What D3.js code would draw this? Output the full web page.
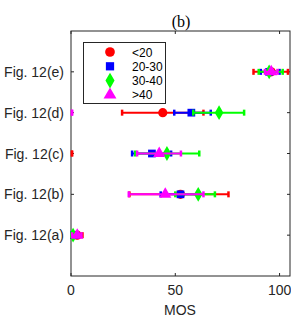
<!DOCTYPE html>
<html>
<head>
<meta charset="utf-8">
<script src="https://cdn.jsdelivr.net/npm/d3@7"></script>
<style>
  body { margin: 0; background: #fff; }
  svg { display: block; font-family: "Liberation Sans", Arial, sans-serif; }
</style>
</head>
<body>
<svg width="291" height="319"></svg>
<script>
// rows on the y axis, bottom to top
const rows = ["Fig. 12(a)", "Fig. 12(b)", "Fig. 12(c)", "Fig. 12(d)", "Fig. 12(e)"];
const groups = ["<20", "20-30", "30-40", ">40"];
const colors = ["#ff0000", "#0000ff", "#00ff00", "#ff00ff"];
const xTicks = [0, 50, 100];

// mean / low / high per group, one value per row (null = no marker)
const redMean  = [3, 52.5, null, 44, 96];
const redLow   = [1, 28, 0, 24.5, 87.5];
const redHigh  = [5.5, 75.5, 0, 63.5, 104];
const blueMean = [1.5, 52.5, 38.8, 57.7, 95];
const blueLow  = [0, 43, 29.3, 49.5, 91];
const blueHigh = [3.5, 61.5, 48, 67, 100];
const greenMean = [1, 61, 46, 71, 95];
const greenLow  = [0, 50, 30.8, 58.6, 90];
const greenHigh = [3, 69, 61.5, 83, 101.5];
const magMean = [3, 45.2, 42.3, null, 96];
const magLow  = [0.5, 27.7, 31.7, 0, 93];
const magHigh = [5, 63.5, 52.7, 0, 99];

const series = [
  { mean: redMean, low: redLow, high: redHigh },
  { mean: blueMean, low: blueLow, high: blueHigh },
  { mean: greenMean, low: greenLow, high: greenHigh },
  { mean: magMean, low: magLow, high: magHigh }
];
const shapes = [d3.symbolCircle, d3.symbolSquare, d3.symbolDiamond, d3.symbolTriangle];
const sizes = [66, 60, 64, 64];

const mLeft = 71, mRight = 290, mTop = 31, mBottom = 276;
const x = d3.scaleLinear().domain([0, 105]).range([mLeft, mRight]);
const y = d3.scaleLinear().domain([0, 6]).range([mBottom, mTop]);

const svg = d3.select("svg");
const axisCol = "#262626";

svg.append("clipPath").attr("id", "clip")
   .append("rect").attr("x", mLeft - 1).attr("y", mTop)
   .attr("width", mRight - mLeft + 1).attr("height", mBottom - mTop);

// ticks (inward, both sides)
xTicks.forEach(t => {
  svg.append("line").attr("x1", x(t)).attr("x2", x(t)).attr("y1", mBottom).attr("y2", mBottom - 3)
     .attr("stroke", axisCol);
  svg.append("line").attr("x1", x(t)).attr("x2", x(t)).attr("y1", mTop).attr("y2", mTop + 3)
     .attr("stroke", axisCol);
  svg.append("text").attr("x", x(t)).attr("y", 295).attr("text-anchor", "middle")
     .attr("font-size", 14).attr("fill", axisCol).text(t);
});
rows.forEach((r, i) => {
  svg.append("line").attr("x1", mLeft).attr("x2", mLeft + 3).attr("y1", y(i + 1)).attr("y2", y(i + 1))
     .attr("stroke", axisCol);
  svg.append("line").attr("x1", mRight).attr("x2", mRight - 3).attr("y1", y(i + 1)).attr("y2", y(i + 1))
     .attr("stroke", axisCol);
  svg.append("text").attr("x", 64).attr("y", y(i + 1) + 5).attr("text-anchor", "end")
     .attr("font-size", 14).attr("fill", axisCol).text(r);
});

// box
svg.append("rect").attr("x", mLeft).attr("y", mTop).attr("width", mRight - mLeft).attr("height", mBottom - mTop)
   .attr("fill", "none").attr("stroke", axisCol).attr("stroke-width", 1);

// error bars
const plot = svg.append("g").attr("clip-path", "url(#clip)");
series.forEach((s, k) => {
  const g = plot.append("g");
  rows.forEach((r, i) => {
    const yy = y(i + 1);
    g.append("line").attr("x1", x(s.low[i])).attr("x2", x(s.high[i]))
     .attr("y1", yy).attr("y2", yy).attr("stroke", colors[k]).attr("stroke-width", 2);
    [s.low[i], s.high[i]].forEach(v => {
      g.append("line").attr("x1", x(v) + (v === 0 ? 1 : 0)).attr("x2", x(v) + (v === 0 ? 1 : 0))
       .attr("y1", yy - 3).attr("y2", yy + 3).attr("stroke", colors[k]).attr("stroke-width", 2.5);
    });
    if (s.mean[i] !== null) {
      g.append("path").attr("d", d3.symbol().type(shapes[k]).size(sizes[k])())
       .attr("transform", `translate(${x(s.mean[i])},${yy})`)
       .attr("fill", colors[k]);
    }
  });
});

// legend
const lg = svg.append("g");
lg.append("rect").attr("x", 83.5).attr("y", 42.5).attr("width", 82).attr("height", 61)
  .attr("fill", "#fff").attr("stroke", axisCol).attr("stroke-width", 1);
groups.forEach((gname, k) => {
  const ly = 52 + k * 14.3;
  lg.append("path").attr("d", d3.symbol().type(shapes[k]).size(sizes[k] + 8)())
    .attr("transform", `translate(110,${ly})`).attr("fill", colors[k]);
  lg.append("text").attr("x", 132).attr("y", ly + 4.5).attr("font-size", 12)
    .attr("fill", "#000").text(gname);
});

// titles
svg.append("text").attr("x", 181).attr("y", 27).attr("text-anchor", "middle")
   .attr("font-family", "Liberation Serif, Times New Roman, serif").attr("font-size", 16)
   .attr("fill", "#000").text("(b)");
svg.append("text").attr("x", 180).attr("y", 315).attr("text-anchor", "middle")
   .attr("font-size", 14).attr("fill", axisCol).text("MOS");
</script>
</body>
</html>
